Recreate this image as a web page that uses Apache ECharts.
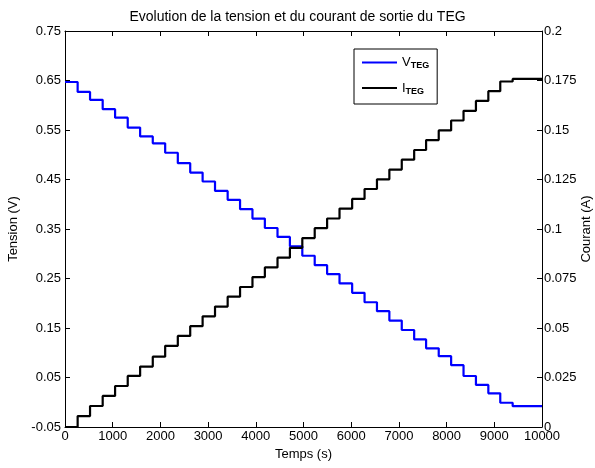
<!DOCTYPE html>
<html>
<head>
<meta charset="utf-8">
<script src="https://cdn.jsdelivr.net/npm/echarts@6/dist/echarts.min.js"></script>
<style>
  html, body { margin: 0; padding: 0; background: #fff; }
  #main { width: 595px; height: 468px; }
</style>
</head>
<body>
<div id="main"></div>
<script>
// instants des changements de charge (s)
const stepTimes = [265, 525, 790, 1050, 1315, 1575, 1840, 2100, 2365, 2625,
  2885, 3145, 3410, 3670, 3930, 4190, 4455, 4715, 4975, 5235,
  5495, 5755, 6020, 6280, 6540, 6800, 7060, 7320, 7570, 7835,
  8095, 8355, 8615, 8875, 9125, 9385];
const tEnd = 10000;

// paliers de tension (V), un de plus que le nombre de changements
const tensionLevels = [0.647, 0.627, 0.611, 0.592, 0.575, 0.555, 0.537, 0.523, 0.504, 0.483,
  0.464, 0.446, 0.427, 0.409, 0.390, 0.371, 0.352, 0.334, 0.315, 0.296,
  0.277, 0.259, 0.240, 0.221, 0.202, 0.184, 0.165, 0.146, 0.127, 0.109,
  0.093, 0.075, 0.053, 0.035, 0.018, -0.001, -0.008];

// paliers de courant (A)
const courantLevels = [0, 0.0055, 0.0106, 0.0157, 0.0207, 0.0258, 0.0305, 0.0355, 0.041, 0.046,
  0.0509, 0.0559, 0.0608, 0.0658, 0.0707, 0.0757, 0.0806, 0.0855, 0.0905, 0.0954,
  0.1004, 0.1053, 0.1103, 0.1152, 0.1202, 0.1251, 0.1300, 0.1350, 0.1399, 0.1449,
  0.1498, 0.1548, 0.1597, 0.1647, 0.1696, 0.1745, 0.1758];

function buildSteps(levels) {
  const pts = [[0, levels[0]]];
  stepTimes.forEach((t, i) => pts.push([t, levels[i + 1]]));
  pts.push([tEnd, levels[levels.length - 1]]);
  return pts;
}

const font = 'Liberation Sans, Arial, sans-serif';
const chart = echarts.init(document.getElementById('main'), null, { renderer: 'canvas' });

const axisLine = { show: true, onZero: false, lineStyle: { color: '#000', width: 1 } };
const axisTick = { show: true, inside: true, length: 5, lineStyle: { color: '#000' } };
const nameStyle = { fontFamily: font, fontSize: 13, color: '#000' };

const option = {
  animation: false,
  backgroundColor: '#fff',
  textStyle: { fontFamily: font, color: '#000' },
  title: {
    text: 'Evolution de la tension et du courant de sortie du TEG',
    left: 'center',
    top: 5,
    textStyle: { fontFamily: font, fontSize: 14, fontWeight: 'normal', color: '#000' }
  },
  legend: {
    orient: 'vertical',
    left: 354,
    top: 49,
    padding: [7, 8, 8, 8],
    itemGap: 11,
    itemWidth: 35,
    itemHeight: 2,
    icon: 'rect',
    backgroundColor: '#fff',
    borderColor: '#000',
    borderWidth: 1,
    borderRadius: 0,
    data: ['V', 'I'],
    formatter: name => '{a|' + name + '}{b|TEG}',
    textStyle: {
      fontFamily: font,
      color: '#000',
      rich: {
        a: { fontSize: 13, fontFamily: font, color: '#000', lineHeight: 16 },
        b: { fontSize: 9, fontFamily: font, color: '#000', fontWeight: 'bold', padding: [7, 0, 0, 0] }
      }
    }
  },
  grid: { left: 65, right: 53, top: 31, bottom: 41, containLabel: false, outerBoundsMode: 'none' },
  xAxis: [
    {
      type: 'value', min: 0, max: tEnd, interval: 1000,
      name: 'Temps (s)', nameLocation: 'middle', nameGap: 21,
      nameTextStyle: nameStyle,
      axisLine: axisLine,
      axisTick: axisTick,
      axisLabel: { color: '#000', fontFamily: font, fontSize: 13, margin: 3,
        formatter: v => String(v) },
      splitLine: { show: false }
    },
    {
      type: 'value', position: 'top', min: 0, max: tEnd, interval: 1000,
      axisLine: axisLine,
      axisTick: axisTick,
      axisLabel: { show: false },
      splitLine: { show: false }
    }
  ],
  yAxis: [
    {
      type: 'value', min: -0.05, max: 0.75, interval: 0.1,
      name: 'Tension (V)', nameLocation: 'middle', nameGap: 45, nameRotate: 90,
      nameMoveOverlap: false,
      nameTextStyle: nameStyle,
      axisLine: axisLine,
      axisTick: axisTick,
      axisLabel: { color: '#000', fontFamily: font, fontSize: 13, margin: 4,
        formatter: v => v.toFixed(2) },
      splitLine: { show: false }
    },
    {
      type: 'value', position: 'right', min: 0, max: 0.2, interval: 0.025,
      name: 'Courant (A)', nameLocation: 'middle', nameGap: 38, nameRotate: 90,
      nameMoveOverlap: false,
      nameTextStyle: nameStyle,
      axisLine: axisLine,
      axisTick: axisTick,
      axisLabel: { color: '#000', fontFamily: font, fontSize: 13, margin: 2 },
      splitLine: { show: false }
    }
  ],
  series: [
    {
      name: 'V', type: 'line', step: 'end', yAxisIndex: 0,
      symbol: 'none', color: '#0000ff',
      lineStyle: { color: '#0000ff', width: 2.2 },
      data: buildSteps(tensionLevels)
    },
    {
      name: 'I', type: 'line', step: 'end', yAxisIndex: 1,
      symbol: 'none', color: '#000',
      lineStyle: { color: '#000', width: 2.2 },
      data: buildSteps(courantLevels)
    }
  ]
};

chart.setOption(option);
</script>
</body>
</html>
